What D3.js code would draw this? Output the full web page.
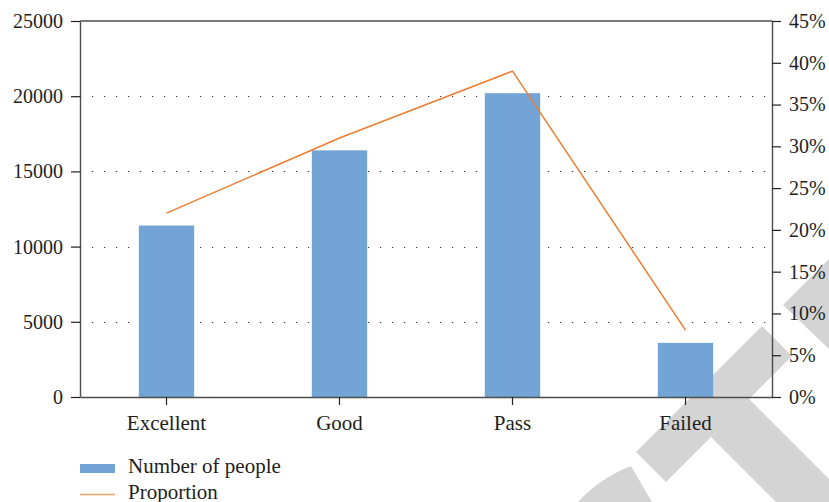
<!DOCTYPE html>
<html>
<head>
<meta charset="utf-8">
<script src="https://cdn.jsdelivr.net/npm/d3@7"></script>
<style>
  html, body { margin: 0; padding: 0; background: #fff; }
  svg { display: block; }
  text { font-family: "Liberation Serif", "DejaVu Serif", serif; fill: #231f20; }
</style>
</head>
<body>
<svg id="chart" width="829" height="502"></svg>
<script>
// Grade categories
const categories = ["Excellent", "Good", "Pass", "Failed"];
// Number of people in each grade (left axis)
const peopleCounts = [11400, 16400, 20200, 3600];
// Share of each grade (right axis, fraction)
const proportions = [0.22, 0.31, 0.39, 0.08];
// Axis tick values
const leftTicks = [0, 5000, 10000, 15000, 20000, 25000];
const gridTicks = [5000, 10000, 15000, 20000];
const rightTicks = [0, 0.05, 0.10, 0.15, 0.20, 0.25, 0.30, 0.35, 0.40, 0.45];
// Legend entries
const legendLabels = ["Number of people", "Proportion"];

const svg = d3.select("#chart");
const plot = { left: 80, right: 772, top: 21, bottom: 397 };

const barColor = "#72a5d6";
const lineColor = "#ee7d2f";
const axisColor = "#4d4d4d";
const tickFont = 20;
const labelFont = 21;

// Publisher watermark, sits underneath the chart
const wm = svg.append("g").attr("fill", "#d4d4d4");
wm.append("polygon").attr("points", "636,452 666,482 792,356 762,326");
wm.append("polygon").attr("points", "711,437 749,399 900,550 862,588");
wm.append("polygon").attr("points", "783,305 829,259 829,349");
wm.append("path").attr("d", "M578,502 Q600,478 631,466 L652,502 Z");

const x = d3.scaleBand().domain(categories).range([plot.left, plot.right]).padding(0);
const yLeft = d3.scaleLinear().domain([0, 25000]).range([plot.bottom, plot.top]);
const yRight = d3.scaleLinear().domain([0, 0.45]).range([plot.bottom, plot.top]);

// Dotted horizontal grid
svg.append("g").selectAll("line").data(gridTicks).join("line")
  .attr("x1", plot.left).attr("x2", plot.right - 4)
  .attr("y1", d => Math.round(yLeft(d)) + 0.5).attr("y2", d => Math.round(yLeft(d)) + 0.5)
  .attr("stroke", "#333").attr("stroke-width", 1.2)
  .attr("stroke-dasharray", "1.2 10.8");

// Bars
const barW = x.bandwidth() * 0.32;
svg.append("g").selectAll("rect").data(categories).join("rect")
  .attr("x", d => x(d) + x.bandwidth() / 2 - barW / 2)
  .attr("width", barW)
  .attr("y", (d, i) => yLeft(peopleCounts[i]))
  .attr("height", (d, i) => plot.bottom - yLeft(peopleCounts[i]))
  .attr("fill", barColor);

// Proportion line
const line = d3.line()
  .x((d, i) => x(categories[i]) + x.bandwidth() / 2)
  .y(d => yRight(d));
svg.append("path").datum(proportions)
  .attr("d", line)
  .attr("fill", "none")
  .attr("stroke", lineColor)
  .attr("stroke-width", 1.5);

// Top frame line
svg.append("line")
  .attr("x1", plot.left).attr("x2", plot.right)
  .attr("y1", plot.top).attr("y2", plot.top)
  .attr("stroke", axisColor).attr("stroke-width", 1.4);

function styleAxis(g, size) {
  g.selectAll(".domain").attr("stroke", axisColor).attr("stroke-width", 1.4);
  g.selectAll(".tick line").attr("stroke", "#231f20").attr("stroke-width", 1.2);
  g.selectAll("text").attr("font-size", size).attr("font-family", null).attr("fill", "#231f20");
}

// Left axis
svg.append("g").attr("transform", `translate(${plot.left},0)`)
  .call(d3.axisLeft(yLeft).tickValues(leftTicks).tickSize(9).tickPadding(8).tickSizeOuter(0).tickFormat(d3.format("d")))
  .call(styleAxis, tickFont);

// Right axis
svg.append("g").attr("transform", `translate(${plot.right},0)`)
  .call(d3.axisRight(yRight).tickValues(rightTicks).tickSize(9).tickPadding(8).tickSizeOuter(0).tickFormat(d3.format(".0%")))
  .call(styleAxis, tickFont);

// Bottom axis
const xAxis = svg.append("g").attr("transform", `translate(0,${plot.bottom})`)
  .call(d3.axisBottom(x).tickSize(8).tickSizeOuter(0))
  .call(styleAxis, labelFont);
xAxis.selectAll("text").attr("y", 33).attr("dy", 0);

// Legend
const lg = svg.append("g");
lg.append("rect").attr("x", 80).attr("y", 464).attr("width", 35).attr("height", 9).attr("fill", barColor);
lg.append("line").attr("x1", 80).attr("x2", 115).attr("y1", 494.5).attr("y2", 494.5)
  .attr("stroke", "#f3a469").attr("stroke-width", 1.5);
lg.selectAll("text").data(legendLabels).join("text")
  .attr("x", 128).attr("y", (d, i) => 473 + i * 25.5)
  .attr("font-size", labelFont)
  .text(d => d);
</script>
</body>
</html>
